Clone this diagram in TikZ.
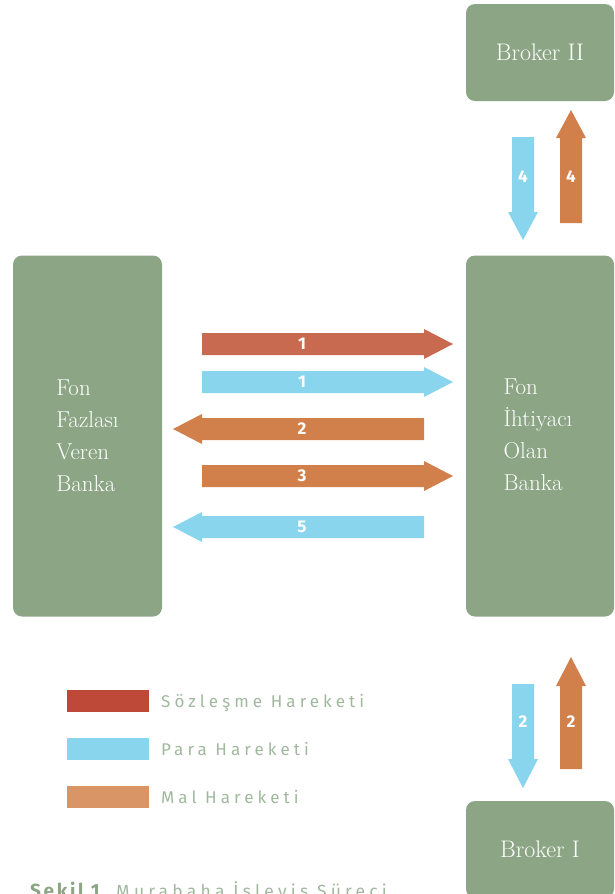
\documentclass[tikz,border=0pt]{standalone}
\usepackage{fontspec}
\newfontfamily\legendfont[LetterSpace=24]{Fira Sans}
\newfontfamily\capfont[LetterSpace=14]{Fira Sans}
\newfontfamily\numfont{Fira Sans}
\definecolor{boxgreen}{RGB}{139,165,133}
\definecolor{arrred}{RGB}{200,106,80}
\definecolor{legred}{RGB}{190,73,56}
\definecolor{arrblue}{RGB}{138,213,238}
\definecolor{arrorange}{RGB}{210,128,75}
\definecolor{legorange}{RGB}{218,149,103}
\definecolor{legtext}{RGB}{160,184,157}
\tikzset{
  box/.style={fill=boxgreen, rounded corners=9pt, text=white, align=left,
    font=\fontsize{23}{32}\selectfont, inner sep=0pt},
  brokerbox/.style={box, minimum width=148pt, minimum height=97pt, align=center,
    font=\fontsize{24}{26}\selectfont},
  numlbl/.style={text=white, font=\numfont\bfseries\fontsize{17}{17}\selectfont, inner sep=0pt},
  legbox/.style={minimum width=82pt, minimum height=22pt, inner sep=0pt},
  legtxt/.style={anchor=base west, text=legtext, inner sep=0pt,
    font=\legendfont\fontsize{17}{17}\selectfont},
}
\begin{document}
\begin{tikzpicture}[x=1pt,y=-1pt]
\useasboundingbox (0,0) rectangle (614,894);
\clip (0,0) rectangle (614,894);
% boxes
\node[box, minimum width=149pt, minimum height=361pt] (fvb) at (87.5,436) {Fon\\Fazlası\\Veren\\Banka};
\node[box, minimum width=148pt, minimum height=361pt] (fob) at (540,436) {\hspace*{-4pt}\begin{tabular}{@{}l@{}}Fon\\İhtiyacı\\Olan\\Banka\end{tabular}};
\node[brokerbox] (b2) at (540,52.5) {Broker II};
\node[brokerbox] (b1) at (540,849.5) {Broker I};
% horizontal arrows
\fill[arrred] (202,333) -- (424,333) -- (424,329) -- (453,344) -- (424,359) -- (424,355) -- (202,355) -- cycle;
\node[numlbl] (h1a) at (302,344) {1};
\fill[arrblue] (202,371) -- (424,371) -- (424,367) -- (453,382) -- (424,397) -- (424,393) -- (202,393) -- cycle;
\node[numlbl] (h1b) at (302,382) {1};
\fill[arrorange] (424,418) -- (202,418) -- (202,414) -- (173,429) -- (202,444) -- (202,440) -- (424,440) -- cycle;
\node[numlbl] (h2) at (302,429) {2};
\fill[arrorange] (202,465) -- (424,465) -- (424,461) -- (453,476) -- (424,491) -- (424,487) -- (202,487) -- cycle;
\node[numlbl] (h3) at (302,476) {3};
\fill[arrblue] (424,516) -- (202,516) -- (202,512) -- (173,527) -- (202,542) -- (202,538) -- (424,538) -- cycle;
\node[numlbl] (h5) at (302,527) {5};
% vertical arrows top
\fill[arrblue] (512,137) -- (534,137) -- (534,212) -- (538,212) -- (523,240) -- (508,212) -- (512,212) -- cycle;
\node[numlbl] (v4a) at (523,177) {4};
\fill[arrorange] (560,223) -- (582,223) -- (582,138) -- (586,138) -- (571,110) -- (556,138) -- (560,138) -- cycle;
\node[numlbl] (v4b) at (571,177) {4};
% vertical arrows bottom
\fill[arrblue] (512,684) -- (534,684) -- (534,759) -- (538,759) -- (523,788) -- (508,759) -- (512,759) -- cycle;
\node[numlbl] (v2a) at (523,722) {2};
\fill[arrorange] (560,769) -- (582,769) -- (582,686) -- (586,686) -- (571,657) -- (556,686) -- (560,686) -- cycle;
\node[numlbl] (v2b) at (571,722) {2};
% legend
\node[legbox, fill=legred] (l1) at (108,701) {};
\node[legbox, fill=arrblue] (l2) at (108,749) {};
\node[legbox, fill=legorange] (l3) at (108,797) {};
\node[legtxt] (t1) at (161,707) {Sözleşme Hareketi};
\node[legtxt] (t2) at (161,755) {Para Hareketi};
\node[legtxt] (t3) at (161,803) {Mal Hareketi};
% caption
\node[anchor=base west, inner sep=0pt, text=boxgreen, font=\capfont\bfseries\fontsize{19}{19}\selectfont] (capa) at (30,897) {Şekil 1};
\node[anchor=base west, inner sep=0pt, text=legtext, font=\legendfont\fontsize{17.5}{17.5}\selectfont] (capb) at (116,897) {Murabaha İşleyiş Süreci};
\end{tikzpicture}
\end{document}
